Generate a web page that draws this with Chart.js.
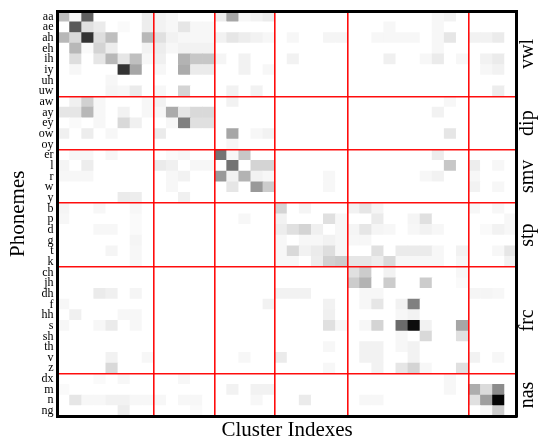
<!DOCTYPE html>
<html lang="en">
<head>
<meta charset="UTF-8">
<title>Phonemes vs Cluster Indexes</title>
<script src="https://cdn.jsdelivr.net/npm/chart.js"></script>
<style>
  html, body { margin: 0; padding: 0; background: #fff; }
</style>
</head>
<body>
<canvas id="heatmap" width="541" height="441"></canvas>
<script>
const phonemes = ['aa', 'ae', 'ah', 'eh', 'ih', 'iy', 'uh', 'uw',
                  'aw', 'ay', 'ey', 'ow', 'oy',
                  'er', 'l', 'r', 'w', 'y',
                  'b', 'p', 'd', 'g', 't', 'k',
                  'ch', 'jh', 'dh', 'f', 'hh', 's', 'sh', 'th', 'v', 'z',
                  'dx', 'm', 'n', 'ng'];
const groupNames = ['vwl', 'dip', 'smv', 'stp', 'frc', 'nas'];
const groupSizes = [8, 5, 5, 6, 10, 4];
const clusters = Array.from({length: 38}, (_, i) => String(i + 1));

// cell darkness, 0 = white .. 100 = black (one row per phoneme, 38 clusters)
const vwl = [
  [25,3,62,0,0,0,0,7, 5,3,0,0,0, 7,35,3,5,8, 0,0,0,0,0,0, 0,0,0,0,0,0,0,3,5,0, 0,0,0,0],
  [0,65,12,8,0,2,0,7, 5,3,10,3,3, 0,0,0,0,0, 0,0,0,0,0,0, 0,0,0,3,0,0,0,3,0,0, 0,0,0,0],
  [28,15,80,13,25,0,0,28, 12,5,3,3,3, 5,10,7,5,3, 0,3,0,0,4,4, 0,0,3,3,3,3,0,3,10,0, 5,5,8,0],
  [0,28,2,17,7,0,0,5, 7,3,5,5,5, 0,0,0,0,0, 0,0,0,0,0,0, 0,0,0,0,0,0,0,3,0,0, 0,0,0,0],
  [0,13,0,10,28,10,25,3, 6,0,30,22,22, 4,0,5,0,0, 0,5,0,0,0,0, 0,0,0,6,0,0,3,8,0,3, 0,5,8,0],
  [0,3,0,0,0,80,35,0, 3,0,33,8,8, 0,0,5,0,3, 0,0,0,0,0,0, 0,0,0,0,0,0,0,0,0,0, 0,3,5,0],
  [0,0,0,0,3,0,0,0, 0,0,0,0,0, 0,0,0,0,0, 0,0,0,0,0,0, 0,0,0,0,0,0,0,0,0,0, 0,0,0,0],
  [0,0,0,0,4,3,8,0, 3,0,17,0,0, 0,5,0,5,0, 0,0,0,0,0,0, 0,0,0,0,0,0,0,0,0,0, 0,0,7,0]
];
const dip = [
  [0,6,18,3,0,0,0,3, 5,0,0,0,0, 0,5,0,0,0, 0,0,0,0,0,0, 0,0,0,0,0,0,0,0,3,0, 0,0,0,0],
  [10,10,28,3,0,5,0,3, 3,33,10,15,15, 0,0,0,0,0, 0,0,0,0,0,0, 0,0,0,0,0,0,0,5,0,0, 0,0,0,0],
  [0,2,0,3,0,15,6,0, 0,3,50,12,12, 0,0,0,0,0, 0,0,0,0,0,0, 0,0,0,0,0,0,0,0,0,0, 0,0,0,0],
  [6,0,7,0,3,0,0,0, 8,0,0,0,0, 0,35,0,3,5, 0,0,0,0,0,0, 0,0,0,0,0,0,0,0,10,0, 0,0,0,0],
  [0,0,0,0,0,0,0,0, 0,0,0,0,0, 0,3,0,0,0, 0,0,0,0,0,0, 0,0,0,0,0,0,0,0,0,0, 0,0,0,0]
];
const smv = [
  [0,3,3,0,3,0,0,0, 0,2,3,0,0, 55,3,22,0,0, 0,0,0,0,0,0, 0,0,0,0,0,0,0,7,0,0, 0,0,0,0],
  [4,0,7,0,0,0,0,0, 8,6,0,3,3, 0,55,0,17,17, 0,0,0,0,0,0, 0,0,0,0,0,0,0,0,22,0, 7,0,3,0],
  [3,3,3,0,0,0,0,0, 0,3,5,0,0, 40,5,30,5,3, 0,0,0,0,3,0, 0,0,0,0,0,0,3,5,0,0, 3,0,0,0],
  [0,0,0,0,0,0,0,0, 0,3,0,0,0, 0,10,0,40,20, 0,0,0,0,3,0, 0,0,0,0,0,0,0,0,0,0, 5,0,3,0],
  [0,0,0,0,0,8,7,0, 0,0,6,0,0, 0,0,0,0,0, 0,0,0,0,0,0, 0,0,0,0,0,0,0,0,0,0, 0,0,0,0]
];
const stp = [
  [4,0,0,3,0,0,3,0, 0,0,0,0,0, 0,0,0,0,0, 17,0,4,0,0,0, 5,10,4,0,0,0,0,0,0,0, 3,0,3,0],
  [3,0,0,0,0,0,2,0, 0,0,0,0,0, 0,0,3,0,0, 5,0,0,0,12,3, 0,0,8,0,0,4,12,0,0,0, 0,0,0,3],
  [0,0,0,3,3,0,2,0, 0,0,0,0,0, 0,0,0,0,0, 7,12,17,6,0,3, 4,10,4,3,0,3,5,3,0,0, 0,2,5,3],
  [0,0,0,0,0,0,4,0, 0,0,0,0,0, 0,0,0,0,0, 3,0,3,3,5,3, 3,3,0,0,0,0,0,0,0,0, 0,0,0,0],
  [0,0,0,0,4,0,3,0, 0,0,0,0,0, 0,0,0,0,0, 3,15,5,8,13,3, 0,0,12,0,8,8,8,3,0,5, 0,0,3,10],
  [0,0,0,0,0,0,3,0, 0,0,0,0,0, 0,0,0,0,0, 3,3,0,7,18,20, 10,10,7,15,3,3,3,3,0,3, 0,0,0,5]
];
const frc = [
  [0,0,0,0,0,0,0,0, 0,0,0,0,0, 0,0,0,0,0, 0,0,0,0,0,0, 12,20,0,5,0,0,0,0,0,3, 0,0,0,0],
  [0,0,0,0,0,0,0,0, 0,0,0,0,0, 0,0,0,0,0, 0,0,0,0,0,0, 20,30,0,20,0,0,20,0,0,2, 0,0,0,0],
  [0,0,0,8,6,0,4,0, 0,0,0,0,0, 0,0,0,0,0, 5,5,5,0,0,0, 0,3,3,0,0,0,0,0,0,0, 4,4,3,0],
  [3,0,0,0,0,0,0,0, 0,0,0,0,0, 0,0,0,0,5, 0,0,0,0,5,0, 0,3,10,0,5,50,0,0,0,0, 0,0,0,0],
  [0,6,0,0,0,3,3,0, 0,0,0,0,0, 0,0,0,0,0, 0,0,0,0,6,0, 0,0,0,0,3,5,0,0,0,0, 0,0,0,0],
  [3,0,0,3,8,0,3,0, 0,0,0,0,0, 0,0,0,0,0, 0,0,0,0,12,3, 0,3,17,0,58,95,5,0,0,35, 0,0,0,0],
  [0,0,0,0,0,0,0,0, 0,0,0,0,0, 0,0,0,0,0, 0,0,0,0,0,0, 0,0,0,0,3,0,15,0,0,12, 0,0,0,0],
  [0,0,0,0,0,0,0,0, 0,0,0,0,0, 0,0,0,0,0, 0,0,0,0,3,0, 0,5,5,0,3,5,0,0,0,0, 0,0,0,0],
  [0,0,0,0,5,0,0,3, 0,0,0,0,0, 0,0,3,0,0, 8,0,0,0,0,0, 0,5,5,0,0,5,0,0,0,0, 5,0,3,0],
  [0,0,0,0,15,0,0,0, 0,0,0,0,0, 0,0,0,0,0, 0,0,0,0,3,0, 0,0,5,0,10,17,3,0,0,12, 0,0,0,0]
];
const nas = [
  [0,0,0,2,0,3,0,0, 0,0,3,0,0, 0,0,0,0,0, 0,0,0,0,0,0, 0,0,0,0,0,0,0,0,3,0, 0,0,0,0],
  [2,0,0,0,0,0,0,0, 0,0,0,0,0, 0,5,0,5,5, 0,0,0,0,0,0, 0,0,0,0,0,0,0,0,3,0, 32,14,45,0],
  [0,10,3,3,5,5,3,3, 3,0,3,3,0, 0,0,0,3,0, 0,0,8,0,0,0, 0,3,3,0,0,0,0,0,0,0, 12,38,98,0],
  [0,0,0,0,0,7,0,0, 0,0,0,2,0, 0,0,0,0,0, 0,0,0,0,0,0, 0,0,0,0,0,0,0,0,0,0, 0,3,20,0]
];

const rows = [].concat(vwl, dip, smv, stp, frc, nas);

// one floating bar per cell: column = cluster, rows r..r+1 on the phoneme axis
const cells = [];
rows.forEach((row, r) => {
    row.forEach((v, c) => {
        cells.push({x: clusters[c], y: [r, r + 1], v: v});
    });
});

// group boundaries (red lines) and group label positions
const bounds = [];
const groupCenters = [];
let acc = 0;
groupSizes.forEach(n => {
    groupCenters.push(acc + n / 2);
    acc += n;
    bounds.push(acc);
});
bounds.pop();

const RED = 'rgba(255, 0, 0, 0.95)';
const NONE = 'rgba(0, 0, 0, 0)';
const serif = '"Liberation Serif", "Times New Roman", serif';
const frame = {display: true, color: '#000', width: 3, z: 2};

function cellColor(ctx) {
    const v = ctx.raw ? ctx.raw.v : 0;
    const g = Math.round(255 * (1 - v / 100));
    return `rgb(${g}, ${g}, ${g})`;
}

Chart.defaults.font.family = serif;
Chart.defaults.color = '#000';

new Chart(document.getElementById('heatmap'), {
    type: 'bar',
    data: {
        labels: clusters,
        datasets: [{
            data: cells,
            xAxisID: 'x',
            yAxisID: 'y',
            backgroundColor: cellColor,
            borderWidth: 0,
            barPercentage: 1,
            categoryPercentage: 1
        }]
    },
    options: {
        responsive: false,
        animation: false,
        events: [],
        layout: {padding: {top: 11, left: 0, right: 0, bottom: 0}},
        plugins: {
            legend: {display: false},
            tooltip: {enabled: false}
        },
        scales: {
            x: {
                type: 'category',
                position: 'bottom',
                grid: {
                    offset: true,
                    drawTicks: false,
                    lineWidth: 1.6,
                    z: 1,
                    color: ctx => bounds.includes(ctx.index) ? RED : NONE
                },
                border: frame,
                ticks: {display: false},
                title: {
                    display: true,
                    text: 'Cluster Indexes',
                    font: {size: 21, lineHeight: 1},
                    padding: 0
                },
                afterFit: s => { s.height = 24.7; }
            },
            xTop: {
                type: 'category',
                position: 'top',
                grid: {display: false, drawTicks: false},
                border: frame,
                ticks: {display: false},
                afterFit: s => { s.height = 0; }
            },
            y: {
                type: 'linear',
                position: 'left',
                min: 0,
                max: phonemes.length,
                reverse: true,
                afterBuildTicks: s => { s.ticks = phonemes.map((p, i) => ({value: i + 0.5})); },
                grid: {
                    offset: true,
                    drawTicks: false,
                    lineWidth: 1.6,
                    z: 1,
                    color: ctx => bounds.includes(ctx.index) ? RED : NONE
                },
                border: frame,
                ticks: {
                    autoSkip: false,
                    padding: 4,
                    font: {size: 12},
                    callback: (v, i) => phonemes[i]
                },
                title: {
                    display: true,
                    text: 'Phonemes',
                    font: {size: 21, lineHeight: 1},
                    padding: {top: 7.5, bottom: 0}
                },
                afterFit: s => { s.width = 57.5; }
            },
            yg: {
                type: 'linear',
                position: 'right',
                min: 0,
                max: phonemes.length,
                reverse: true,
                afterBuildTicks: s => { s.ticks = groupCenters.map(v => ({value: v})); },
                grid: {display: false, drawTicks: false},
                border: frame,
                ticks: {
                    autoSkip: false,
                    minRotation: 90,
                    maxRotation: 90,
                    crossAlign: 'center',
                    padding: -6,
                    font: {size: 20},
                    callback: (v, i) => groupNames[i]
                },
                afterFit: s => { s.width = 24.3; }
            }
        }
    }
});
</script>
</body>
</html>
